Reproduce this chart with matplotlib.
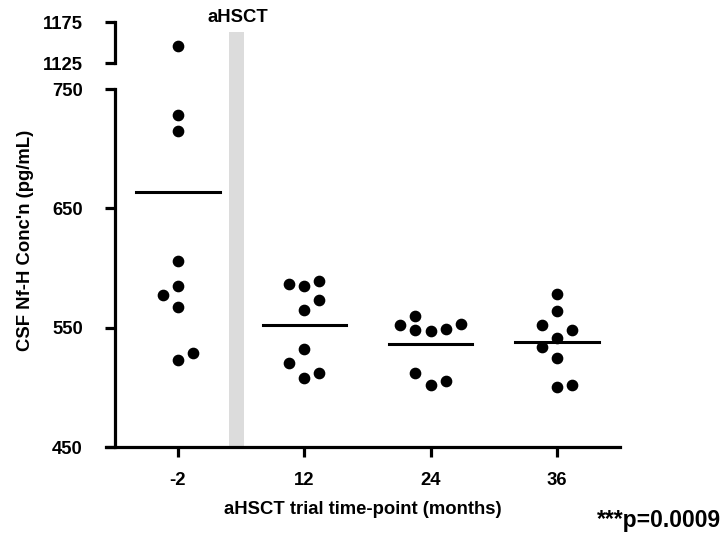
import numpy as np
import matplotlib
matplotlib.use('Agg')
import matplotlib.pyplot as plt

plt.rcParams['font.family'] = ['Liberation Sans', 'DejaVu Sans']
plt.rcParams['font.weight'] = 'bold'

# Datos
timepoints = ['-2', '12', '24', '36']
nfh_m2 = [1146, 728, 715, 606, 585, 577, 567, 523, 529]
nfh_12 = [587, 585, 589, 573, 565, 532, 520, 508, 512]
nfh_24 = [560, 552, 548, 547, 549, 553, 512, 502, 505]
nfh_36 = [578, 564, 552, 548, 541, 534, 525, 500, 502]
# posicion lateral (columna) de cada punto dentro del grupo
slot_m2 = [0, 0, 0, 0, 0, -1, 0, 0, 1]
slot_12 = [-1, 0, 1, 1, 0, 0, -1, 0, 1]
slot_24 = [-1, -2, -1, 0, 1, 2, -1, 0, 1]
slot_36 = [0, 0, -1, 1, 0, -1, 0, 0, 1]
p_text = '***p=0.0009'

groups = [nfh_m2, nfh_12, nfh_24, nfh_36]
slots = [slot_m2, slot_12, slot_24, slot_36]

W, H = 725, 533
fs = 13.3
fig = plt.figure(figsize=(W / 100, H / 100), dpi=100)
x0, x1 = 106 / W, 620 / W
ax_top = fig.add_axes([x0, 1 - 63 / H, x1 - x0, 41 / H])
ax = fig.add_axes([x0, 1 - 447 / H, x1 - x0, (447 - 89) / H])

lw = 2.3
for a in (ax, ax_top):
    a.set_xlim(-0.57, 3.5)
    a.spines['top'].set_visible(False)
    a.spines['right'].set_visible(False)
    a.spines['left'].set_linewidth(lw)
    a.spines['left'].set_position(('data', -0.5))
    a.tick_params(axis='y', width=lw, length=7, labelsize=fs, pad=16)

ax_top.spines['bottom'].set_visible(False)
ax_top.set_xticks([])
ax_top.set_ylim(1125, 1175)
ax_top.set_yticks([1125, 1175])

ax.set_ylim(450, 750)
ax.set_yticks([450, 550, 650, 750])
ax.spines['bottom'].set_linewidth(lw)
ax.set_xticks(range(4))
ax.set_xticklabels(timepoints)
ax.tick_params(axis='x', width=lw, length=7, labelsize=fs, pad=11)

# banda gris del trasplante (continua a traves del corte del eje)
ax.axvspan(0.40, 0.52, ymax=1 + 57 / 358, color='#dcdcdc', lw=0, zorder=0, clip_on=False)

dx = 0.12
for i, (vals, sl) in enumerate(zip(groups, slots)):
    xs = i + dx * np.array(sl)
    vals = np.array(vals)
    for a, lo, hi in ((ax, 450, 750), (ax_top, 1125, 1175)):
        m = (vals >= lo) & (vals <= hi)
        a.plot(xs[m], vals[m], 'o', color='black', ms=7.4, clip_on=False)
    mean = vals.mean()
    ax.plot([i - 0.33, i + 0.33], [mean, mean], color='black', lw=2.2)

ax.set_xlabel('aHSCT trial time-point (months)', fontsize=fs, fontweight='bold', labelpad=9)
fig.text(26 / W, 1 - 240 / H, "CSF Nf-H Conc'n (pg/mL)", rotation=90, ha='center', va='center',
         fontsize=fs, fontweight='bold')
fig.text(238 / W, 1 - 17 / H, 'aHSCT', ha='center', va='center', fontsize=fs, fontweight='bold')
fig.text(721 / W, 1 - 520 / H, p_text, ha='right', va='center', fontsize=16.5, fontweight='bold')

fig.savefig('out.png', dpi=100)
